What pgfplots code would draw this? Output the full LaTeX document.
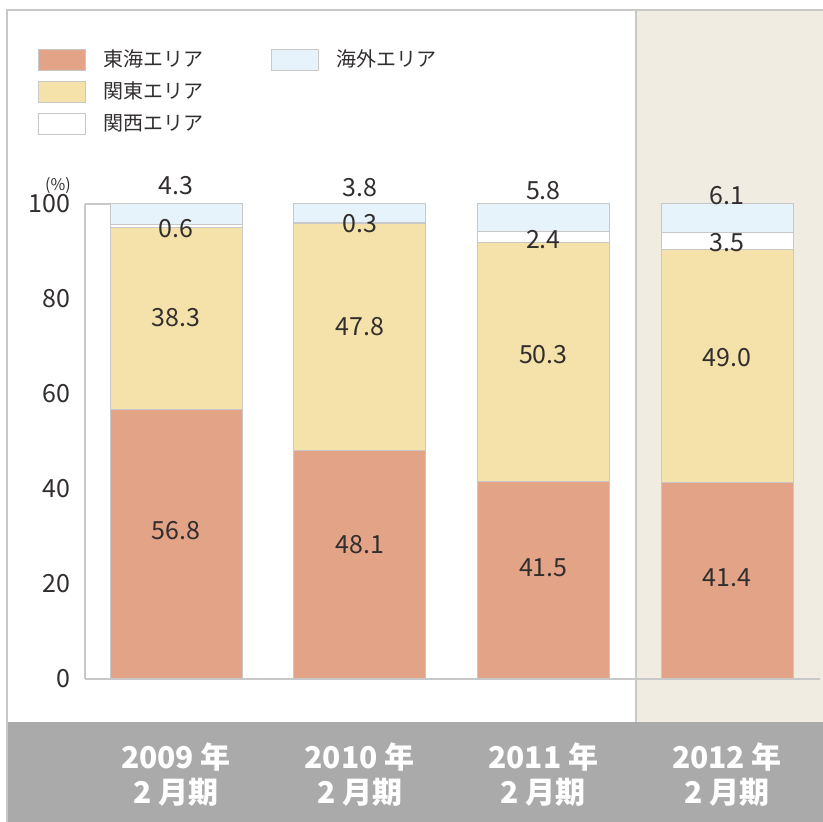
\documentclass[border=0pt]{standalone}
\usepackage{pgfplots}
\pgfplotsset{compat=1.18}
\usepackage{fontspec}
\setmainfont{Noto Sans CJK JP}
\definecolor{tokai}{RGB}{226,163,134}
\definecolor{kanto}{RGB}{245,226,170}
\definecolor{kaigai}{RGB}{230,243,251}
\definecolor{beige}{RGB}{241,236,226}
\definecolor{band}{RGB}{169,170,169}
\definecolor{rule}{RGB}{200,200,200}
\definecolor{ink}{RGB}{50,46,46}

\pgfplotsset{
  lbl/.style={draw=none, mark=none, nodes near coords,
    point meta=explicit symbolic,
    every node near coord/.append style={anchor=center, text=ink,
      font=\fontsize{12.5}{14}\selectfont, inner sep=0pt}},
  seg/.style={fill=#1, draw=rule, line width=0.5pt},
}

\begin{document}
\begin{tikzpicture}
% backdrop, in pixels of the reference (origin top left)
\begin{scope}[x=0.5pt,y=-0.5pt,shift={(0,411pt)}]
  \useasboundingbox (0,0) rectangle (823,822);
  \fill[beige] (636,10) rectangle (823,722);
  \fill[band] (7,722) rectangle (823,822);
  \draw[rule, line width=0.8pt] (823,10) -- (7,10) -- (7,822);
  \draw[rule, line width=0.8pt] (636,10) -- (636,722);
  \node[font=\fontsize{8}{9}\selectfont, text=ink] at (58,186) {(\%)};
\end{scope}

\begin{axis}[
  at={(42.5pt,71.5pt)}, anchor=south west,
  scale only axis, width=367.5pt, height=237.5pt,
  xmin=-0.4955, xmax=3.5063, ymin=0, ymax=100,
  ybar stacked, bar width=66pt,
  axis lines*=left,
  axis line style={draw=rule, line width=0.8pt, -},
  major tick length=0pt,
  ytick={0,20,40,60,80,100},
  xtick={0,1,2,3},
  xticklabels={{2009 年\\2 月期},{2010 年\\2 月期},{2011 年\\2 月期},{2012 年\\2 月期}},
  xticklabel style={align=center, text=white, font=\bfseries\fontsize{15}{17.5}\selectfont,
    anchor=center, yshift=-48pt},
  yticklabel style={text=ink, font=\fontsize{12.5}{14}\selectfont, inner sep=0pt, xshift=-7pt},
  /pgf/number format/assume math mode=true,
  clip=false,
  legend style={at={(-0.0639,1.3263)}, anchor=north west, draw=none, fill=none,
    inner sep=0pt, outer sep=0pt,
    font=\fontsize{10}{12}\selectfont, text=ink,
    nodes={inner sep=0pt}, row sep=5pt,
    /tikz/every odd column/.append style={column sep=8.5pt},
    /tikz/every even column/.append style={column sep=34pt}},
  legend columns=2,
  legend cell align=left,
  legend image code/.code={\draw[#1] (0pt,-5.25pt) rectangle (23.5pt,5.25pt);},
]
\addplot[seg=tokai, forget plot] coordinates {(0,56.8) (1,48.1) (2,41.5) (3,41.4)};
\addplot[seg=kanto, forget plot] coordinates {(0,38.3) (1,47.8) (2,50.3) (3,49.0)};
\addplot[seg=white, forget plot] coordinates {(0,0.6) (1,0.3) (2,2.4) (3,3.5)};
\addplot[seg=kaigai, forget plot] coordinates {(0,4.3) (1,3.8) (2,5.8) (3,6.1)};
\addlegendimage{seg=tokai}
\addlegendentry{東海エリア}
\addlegendimage{seg=kaigai}
\addlegendentry{海外エリア}
\addlegendimage{seg=kanto}
\addlegendentry{関東エリア}
\addlegendimage{empty legend}
\addlegendentry{}
\addlegendimage{seg=white}
\addlegendentry{関西エリア}
\draw[rule, line width=0.8pt] (rel axis cs:0,1) -- ++(8pt,0);
\end{axis}

% value labels
\begin{axis}[
  at={(42.5pt,71.5pt)}, anchor=south west,
  scale only axis, width=367.5pt, height=237.5pt,
  xmin=-0.4955, xmax=3.5063, ymin=0, ymax=100,
  hide axis, clip=false,
]
\addplot[lbl] coordinates {(0,31.2)[56.8] (1,28.2)[48.1] (2,23.4)[41.5] (3,21.3)[41.4]};
\addplot[lbl] coordinates {(0,76.0)[38.3] (1,74.1)[47.8] (2,68.2)[50.3] (3,67.6)[49.0]};
\addplot[lbl] coordinates {(0,94.9)[0.6] (1,95.8)[0.3] (2,92.4)[2.4] (3,91.8)[3.5]};
\addplot[lbl] coordinates {(0,103.8)[4.3] (1,103.4)[3.8] (2,102.9)[5.8] (3,101.7)[6.1]};
\end{axis}
\end{tikzpicture}
\end{document}
